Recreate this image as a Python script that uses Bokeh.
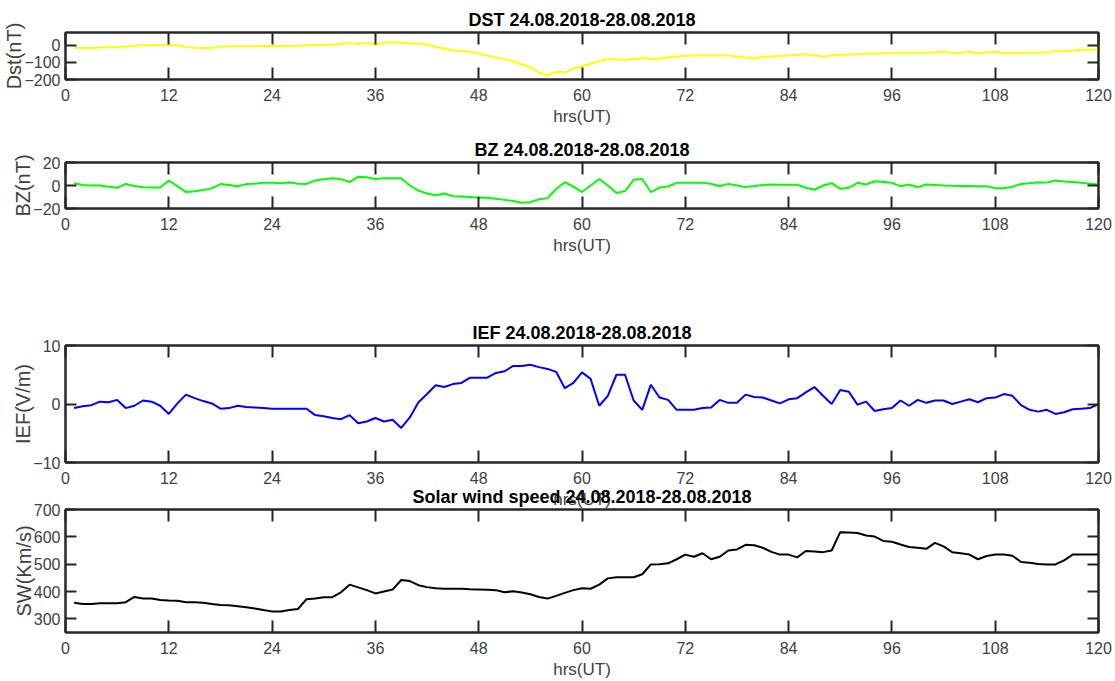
from bokeh.plotting import figure
from bokeh.models import Range1d, LinearAxis, FixedTicker
from bokeh.layouts import column
from bokeh.embed import file_html
from bokeh.resources import INLINE

# hourly samples, 24.08.2018 00UT .. 28.08.2018 24UT
hours = list(range(1, 121))

dst = [
    -15, -15, -15, -13, -10, -10, -8, -3, 0, 0, 2, 2,
    0, -8, -14, -15, -15, -8, -5, -5, -5, -5, -4, -4,
    -4, -4, -3, 0, 2, 3, 3, 8, 14, 8, 14, 5,
    15, 16, 16, 10, 10, 5, -8, -20, -32, -31, -38, -48,
    -60, -72, -80, -95, -112, -128, -160, -175, -155, -158, -135, -122,
    -108, -92, -82, -82, -86, -80, -74, -78, -78, -70, -66, -62,
    -60, -60, -59, -59, -59, -65, -72, -74, -68, -65, -62, -60,
    -55, -52, -60, -66, -60, -55, -54, -52, -50, -49, -46, -43,
    -43, -43, -43, -43, -40, -38, -45, -43, -38, -46, -40, -38,
    -45, -45, -45, -44, -43, -40, -34, -33, -30, -28, -26, -24,
]

bz = [
    2, 0.5, 0, 0, -1, -2, 1.4, -0.5, -1.5, -1.7, -1.7, 4.3,
    -0.5, -5.7, -5, -4, -2.5, 1.2, 0.5, -0.6, 1.2, 1.5, 2.3, 2.3,
    2.0, 2.9, 1.5, 1.4, 4.3, 5.5, 6.3, 5.5, 2.9, 7.7, 7.1, 5.7,
    6.3, 6.3, 6.3, 0, -4.5, -7, -8.5, -7, -9.4, -9.5, -10, -10.6,
    -10.6, -11.5, -12.5, -13.5, -15, -14.5, -12, -11, -3, 2.9, -1, -5.7,
    0, 5.7, 0, -6.6, -4.9, 5, 5.7, -5.7, -1.8, -0.9, 2.3, 2.5,
    2.3, 2.3, 1.5, -0.6, 1.4, 0, -1.4, -0.5, 0.5, 0.9, 0.6, 0.6,
    0.6, -2, -3.7, 0, 2, -2.9, -2, 2.3, 0.9, 3.7, 3, 2.3,
    -0.6, 0.9, -1.4, 0.9, 0.5, 0, -0.3, -0.5, -0.5, -0.6, -0.6, -2.3,
    -2.3, -1.0, 1.4, 2, 2.9, 2.5, 4.3, 3.5, 3, 2.3, 1.5, 0.9,
]

ief = [
    -0.7, -0.4, -0.2, 0.4, 0.3, 0.7, -0.7, -0.3, 0.6, 0.4, -0.3, -1.7,
    0.1, 1.6, 1.0, 0.5, 0.1, -0.8, -0.7, -0.3, -0.5, -0.6, -0.7, -0.8,
    -0.8, -0.8, -0.8, -0.8, -1.9, -2.1, -2.4, -2.6, -1.9, -3.3, -3.0, -2.4,
    -3.0, -2.7, -4.1, -2.3, 0.3, 1.7, 3.2, 2.9, 3.4, 3.6, 4.5, 4.5,
    4.5, 5.3, 5.6, 6.5, 6.5, 6.7, 6.3, 6.0, 5.5, 2.7, 3.6, 5.4,
    4.3, -0.3, 1.4, 5.0, 5.0, 0.6, -1.0, 3.3, 1.1, 0.7, -1.0, -1.0,
    -1.0, -0.7, -0.6, 0.7, 0.2, 0.2, 1.6, 1.2, 1.1, 0.6, 0.1, 0.8,
    1.0, 2.0, 2.9, 1.4, 0.0, 2.4, 2.1, -0.1, 0.4, -1.2, -0.9, -0.7,
    0.6, -0.3, 0.7, 0.2, 0.6, 0.6, 0.0, 0.4, 0.8, 0.3, 1.0, 1.1,
    1.7, 1.4, -0.2, -1.0, -1.3, -1.0, -1.7, -1.4, -0.9, -0.8, -0.7, 0.0,
]

sw = [
    359, 354, 354, 357, 357, 357, 361, 380, 374, 374, 369, 367,
    366, 361, 361, 359, 354, 351, 350, 346, 342, 338, 332, 327,
    327, 332, 336, 372, 374, 379, 379, 397, 425, 415, 405, 393,
    400, 407, 442, 438, 423, 416, 412, 410, 410, 410, 408, 407,
    406, 405, 397, 401, 396, 390, 380, 374, 384, 395, 405, 412,
    410, 425, 448, 452, 452, 452, 463, 499, 500, 503, 518, 535,
    527, 540, 518, 527, 550, 554, 571, 569, 560, 545, 535, 535,
    525, 548, 546, 544, 550, 617, 616, 614, 605, 601, 585, 582,
    572, 563, 560, 556, 578, 565, 544, 540, 535, 518, 530, 535,
    535, 531, 508, 505, 501, 499, 499, 514, 535, 535, 535, 535,
]

x_ticks = [0, 12, 24, 36, 48, 60, 72, 84, 96, 108, 120]
dst_ticks = [-200, -100, 0]
bz_ticks = [-20, 0, 20]
ief_ticks = [-10, 0, 10]
sw_ticks = [300, 400, 500, 600, 700]

AXIS = "#262626"
LABEL = "#404040"
SANS = "Liberation Sans"


def style_axis(ax, tick_len, show_labels, standoff=9):
    ax.axis_line_color = AXIS
    ax.axis_line_width = 2
    ax.major_tick_line_color = AXIS
    ax.major_tick_line_width = 2
    ax.major_tick_in = tick_len
    ax.major_tick_out = 0
    ax.minor_tick_line_color = None
    if show_labels:
        ax.major_label_text_font = SANS
        ax.major_label_text_font_size = "16px"
        ax.major_label_text_color = LABEL
        ax.major_label_standoff = standoff
    else:
        ax.major_label_text_font_size = "0px"
        ax.major_label_standoff = 0
        ax.major_label_overrides = {t: "" for t in ax.ticker.ticks}


def panel(title, ylabel, yvals, color, yrange, yticks, height, top, bottom, margin=None):
    p = figure(width=1115, height=height,
               x_range=Range1d(0, 120), y_range=Range1d(*yrange),
               x_axis_type=None, y_axis_type=None,
               output_backend="svg", toolbar_location=None,
               min_border_left=64, min_border_right=17,
               min_border_top=top, min_border_bottom=bottom,
               margin=margin)
    p.border_fill_color = None
    p.background_fill_color = "white"
    p.outline_line_color = AXIS
    p.outline_line_width = 2
    p.grid.visible = False

    p.title.text = title
    p.title.align = "center"
    p.title.text_font = SANS
    p.title.text_font_style = "bold"
    p.title.text_font_size = "18px"
    p.title.text_color = "black"
    p.title.standoff = 5

    xb = LinearAxis(ticker=FixedTicker(ticks=x_ticks), axis_label="hrs(UT)")
    style_axis(xb, 12, True, standoff=9)
    xb.axis_label_text_font = SANS
    xb.axis_label_text_font_size = "17px"
    xb.axis_label_text_font_style = "normal"
    xb.axis_label_text_color = LABEL
    xb.axis_label_standoff = 3
    p.add_layout(xb, "below")

    xt = LinearAxis(ticker=FixedTicker(ticks=x_ticks))
    style_axis(xt, 12, False)
    p.add_layout(xt, "above")

    yl = LinearAxis(ticker=FixedTicker(ticks=yticks), axis_label=ylabel)
    style_axis(yl, 11, True, standoff=5)
    yl.axis_label_text_font = SANS
    yl.axis_label_text_font_size = "20px"
    yl.axis_label_text_font_style = "normal"
    yl.axis_label_text_color = LABEL
    yl.axis_label_standoff = -4
    p.add_layout(yl, "left")

    yr = LinearAxis(ticker=FixedTicker(ticks=yticks))
    style_axis(yr, 11, False)
    p.add_layout(yr, "right")

    p.line(hours, yvals, line_color=color, line_width=2)
    return p


p1 = panel("DST 24.08.2018-28.08.2018", "Dst(nT)", dst, "#FFFF00",
           (-200, 75), dst_ticks, height=132, top=32, bottom=53)
p2 = panel("BZ 24.08.2018-28.08.2018", "BZ(nT)", bz, "#00FF00",
           (-20, 20), bz_ticks, height=168, top=30, bottom=92)
p3 = panel("IEF 24.08.2018-28.08.2018", "IEF(V/m)", ief, "#0000FF",
           (-10, 10), ief_ticks, height=212, top=45, bottom=50)
p4 = panel("Solar wind speed 24.08.2018-28.08.2018", "SW(Km/s)", sw, "black",
           (250, 700), sw_ticks, height=199, top=27, bottom=46,
           margin=(-30, 0, 0, 0))

layout = column(p1, p2, p3, p4, spacing=0)

open("out.html", "w").write(file_html(layout, INLINE))
